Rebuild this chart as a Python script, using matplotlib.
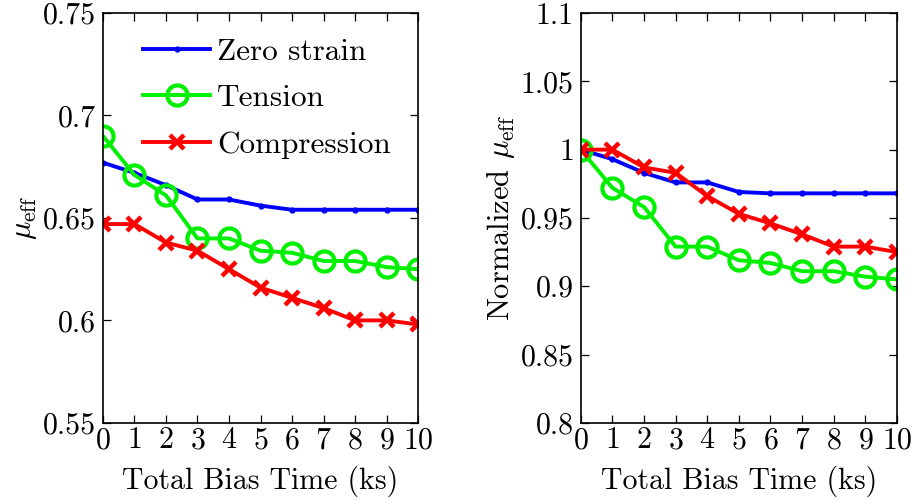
import matplotlib
matplotlib.use("Agg")
import matplotlib.pyplot as plt
from matplotlib.ticker import FormatStrFormatter


# =====================================
# DATA
# =====================================
bias_time = [0, 1, 2, 3, 4, 5, 6, 7, 8, 9, 10]

mu_zero = [0.677, 0.672, 0.666, 0.659, 0.659, 0.656, 0.654, 0.654, 0.654, 0.654, 0.654]
mu_tension = [0.690, 0.671, 0.661, 0.640, 0.640, 0.634, 0.633, 0.629, 0.629, 0.626, 0.625]
mu_compression = [0.647, 0.647, 0.638, 0.634, 0.625, 0.616, 0.611, 0.606, 0.600, 0.600, 0.598]

norm_zero = [1.0, 0.993, 0.983, 0.976, 0.976, 0.969, 0.968, 0.968, 0.968, 0.968, 0.968]
norm_tension = [1.0, 0.972, 0.958, 0.929, 0.929, 0.919, 0.917, 0.911, 0.911, 0.907, 0.905]
norm_compression = [1.0, 1.0, 0.987, 0.983, 0.966, 0.953, 0.946, 0.938, 0.929, 0.929, 0.925]

left_yticks = [0.55, 0.6, 0.65, 0.7, 0.75]
right_yticks = [0.8, 0.85, 0.9, 0.95, 1.0, 1.05, 1.1]


plt.rcParams["font.family"] = "cmr10"
plt.rcParams["mathtext.fontset"] = "cm"
plt.rcParams["axes.formatter.use_mathtext"] = True
plt.rcParams["font.size"] = 22


def style_axes(ax, yticks):

    ax.set_xlim(0, 10)
    ax.set_ylim(yticks[0], yticks[-1])
    ax.set_xticks(bias_time)
    ax.set_yticks(yticks)
    ax.yaxis.set_major_formatter(FormatStrFormatter("%g"))

    ax.tick_params(
        direction="in",
        top=True,
        right=True,
        length=6,
        width=0.9,
        pad=3,
        labelsize=21.5
    )
    ax.tick_params(axis="y", pad=5)

    ax.set_xlabel("Total Bias Time (ks)", labelpad=8, fontsize=21.5)

    for side in ax.spines.values():
        side.set_linewidth(1.2)


def draw_series(ax, zero, tension, compression):

    ax.plot(
        bias_time, zero,
        color="#0000ff", linewidth=2.8,
        marker=".", markersize=7,
        label="Zero strain"
    )

    ax.plot(
        bias_time, tension,
        color="#00f000", linewidth=2.8,
        marker="o", markersize=14.5,
        markerfacecolor="none", markeredgewidth=3,
        label="Tension"
    )

    ax.plot(
        bias_time, compression,
        color="#ff0000", linewidth=2.8,
        marker="x", markersize=10,
        markeredgewidth=3.2,
        label="Compression"
    )


fig = plt.figure(figsize=(9.19, 5.01), dpi=100)

ax1 = fig.add_axes([0.112, 0.156, 0.343, 0.818])
ax2 = fig.add_axes([0.632, 0.156, 0.344, 0.818])

# =====================================
# ABSOLUTE MOBILITY
# =====================================
draw_series(ax1, mu_zero, mu_tension, mu_compression)
style_axes(ax1, left_yticks)
ax1.set_ylabel(r"$\mu_{\rm eff}$", labelpad=3, fontsize=22)

ax1.legend(
    loc="upper left",
    bbox_to_anchor=(0.127, 0.94),
    frameon=False,
    handlelength=2.15,
    handletextpad=0.22,
    labelspacing=0.6,
    borderpad=0,
    borderaxespad=0,
    fontsize=22.5
)

# =====================================
# NORMALIZED MOBILITY
# =====================================
draw_series(ax2, norm_zero, norm_tension, norm_compression)
style_axes(ax2, right_yticks)
ax2.set_ylabel(r"Normalized $\mu_{\rm eff}$", labelpad=3, fontsize=22)

fig.savefig("out.png", dpi=100)
